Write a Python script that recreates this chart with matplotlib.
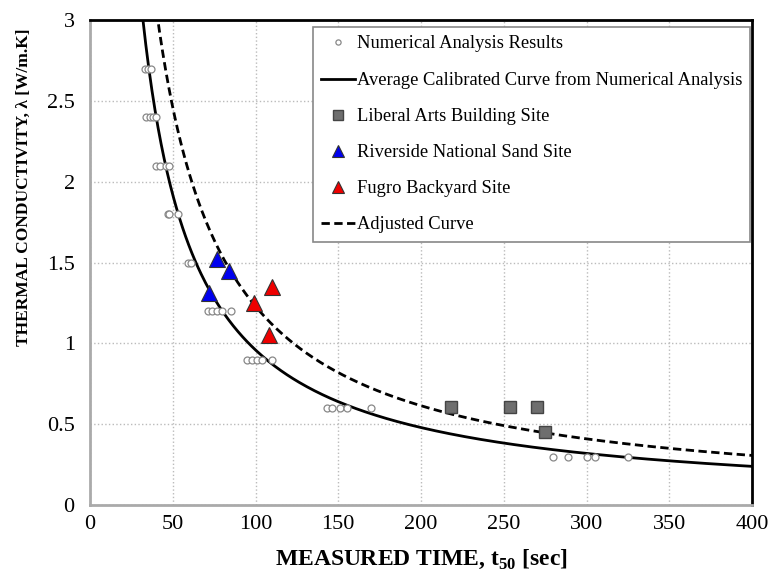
import numpy as np
import matplotlib
matplotlib.use('Agg')
import matplotlib.pyplot as plt

plt.rcParams['font.family'] = ['Liberation Serif', 'DejaVu Serif']
plt.rcParams['mathtext.fontset'] = 'custom'
plt.rcParams['mathtext.rm'] = 'Liberation Serif'
plt.rcParams['mathtext.bf'] = 'Liberation Serif:bold'

# Numerical analysis results (t50 [sec], lambda [W/m.K])
num_t = [33, 35, 37,
         34, 36, 38, 40,
         40, 42, 46, 48,
         47, 48, 53,
         59, 61,
         71, 74, 77, 80, 85,
         95, 98, 101, 104, 110,
         143, 146, 151, 155, 170,
         280, 289, 300, 305, 325]
num_k = [2.7] * 3 + [2.4] * 4 + [2.1] * 4 + [1.8] * 3 + [1.5] * 2 + \
        [1.2] * 5 + [0.9] * 5 + [0.6] * 5 + [0.3] * 5

# Field sites
liberal_t = [218, 254, 270, 275]
liberal_k = [0.61, 0.61, 0.61, 0.45]
riverside_t = [77, 84, 72]
riverside_k = [1.52, 1.45, 1.31]
fugro_t = [110, 99, 108]
fugro_k = [1.35, 1.25, 1.05]

# Power-law curves lambda = a * t^b
avg_a, avg_b = 96.0, -1.0
adj_a, adj_b = 123.0, -1.0

fig = plt.figure(figsize=(7.72, 5.76), dpi=100)
ax = fig.add_axes([0.1166, 0.123, 0.8575, 0.842])

t_avg = np.linspace(avg_a / 3.2, 400, 400)
t_adj = np.linspace(adj_a / 3.2, 400, 400)

ax.plot(num_t, num_k, 'o', ms=5, mfc='white', mec='#888888', mew=0.9,
        label='Numerical Analysis Results', zorder=3, clip_on=False)
ax.plot(t_avg, avg_a * t_avg ** avg_b, '-', color='black', lw=2,
        label='Average Calibrated Curve from Numerical Analysis', zorder=2)
ax.plot(liberal_t, liberal_k, 's', ms=9, mfc='#6e6e6e', mec='#444444', mew=1,
        label='Liberal Arts Building Site', zorder=4)
ax.plot(riverside_t, riverside_k, '^', ms=11, mfc='#0000ee', mec='#333333', mew=0.8,
        label='Riverside National Sand Site', zorder=4)
ax.plot(fugro_t, fugro_k, '^', ms=11, mfc='#ee0000', mec='#333333', mew=0.8,
        label='Fugro Backyard Site', zorder=4)
ax.plot(t_adj, adj_a * t_adj ** adj_b, '--', color='black', lw=2, dashes=(3, 1.6),
        label='Adjusted Curve', zorder=2)

ax.set_xlim(0, 400)
ax.set_ylim(0, 3)
ax.set_xticks(np.arange(0, 401, 50))
ax.set_yticks(np.arange(0, 3.01, 0.5))
ax.set_yticklabels(['0', '0.5', '1', '1.5', '2', '2.5', '3'])
ax.tick_params(axis='x', length=0, labelsize=16, pad=7)
ax.tick_params(axis='y', length=0, labelsize=16, pad=11)
ax.grid(True, linestyle=':', color='#bbbbbb', linewidth=1)

for s in ['left', 'bottom']:
    ax.spines[s].set_color('#aaaaaa')
    ax.spines[s].set_linewidth(2)
for s in ['top', 'right']:
    ax.spines[s].set_color('black')
    ax.spines[s].set_linewidth(2)

ax.set_xlabel(r'MEASURED TIME, t$_{\mathbf{50}}$ [sec]', fontsize=17, fontweight='bold')
ax.set_ylabel('THERMAL CONDUCTIVITY, λ [W/m.K]', fontsize=12.5, fontweight='bold')
ax.xaxis.set_label_coords(0.5, -0.088)
ax.yaxis.set_label_coords(-0.088, 0.656)

leg = ax.legend(loc='upper left', bbox_to_anchor=(0.337, 0.986), borderaxespad=0,
                fontsize=13.3, fancybox=False, edgecolor='#888888', framealpha=1,
                handlelength=1.8, handletextpad=0.1, labelspacing=1.03,
                borderpad=0.45, markerscale=0.75)
leg.get_frame().set_linewidth(1.2)

plt.savefig('out.png', dpi=100)
